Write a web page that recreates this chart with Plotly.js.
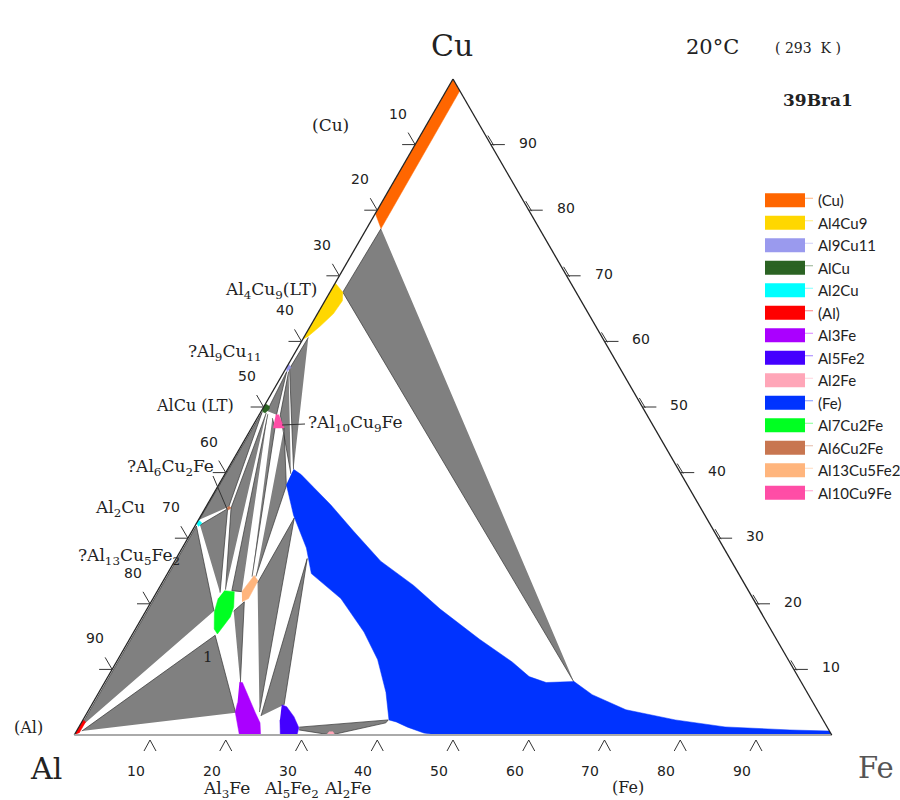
<!DOCTYPE html>
<html><head><meta charset="utf-8">
<script src="https://cdn.plot.ly/plotly-3.0.1.min.js"></script>
<style>body{margin:0;background:#fff}#chart{width:900px;height:800px}</style>
</head><body><div id="chart"></div>
<script>
// ---- DATA: compositions in at.% (Cu, Fe); Al is the balance ----
const phaseNames  = ['(Cu)','Al4Cu9','Al9Cu11','AlCu','Al2Cu','(Al)','Al3Fe','Al5Fe2','Al2Fe','(Fe)','Al7Cu2Fe','Al6Cu2Fe','Al13Cu5Fe2','Al10Cu9Fe'];
const phaseColors = ['#FF6600','#FFD700','#9A9AEE','#2B6323','#00FFFF','#FF0000','#AA00FF','#4400FF','#FFA6B8','#0033FF','#00FF22','#C87650','#FFB57D','#FF4DA6'];

const cuSS_Cu = [100, 98.2, 77.2, 79.5];
const cuSS_Fe = [0, 1.8, 1.9, 0];
const al4cu9_Cu = [68.9, 67.5, 66.2, 64.2, 62.3, 60.8, 60.3];
const al4cu9_Fe = [0, 1.7, 2.3, 2.1, 1.3, 0.5, 0];
const al9cu11_Cu = [56.6, 56.0, 55.4, 56.0];
const al9cu11_Fe = [0, 0.6, 0.4, 0];
const alcu_Cu = [50.5, 50.1, 49.7, 49.1, 49.3, 49.7];
const alcu_Fe = [0, 0.7, 0.9, 0.65, 0.2, 0];
const al2cu_Cu = [32.8, 32.3, 31.8, 32.3];
const al2cu_Fe = [0, 0.7, 0.5, 0];
const alSS_Cu = [0, 2.3, 2.0, 0.3];
const alSS_Fe = [0, 0, 0.5, 0.5];
const al3fe_Cu = [8.0, 8.0, 3.4, 1.85, 0, 0, 3.5, 4.9];
const al3fe_Fe = [17.8, 18.2, 22.2, 23.6, 24.6, 21.8, 19.5, 19.1];
const al5fe2_Cu = [4.6, 4.3, 2.8, 1.1, 0, 0, 2.3];
const al5fe2_Fe = [25.1, 25.9, 27.6, 29.1, 29.4, 27.2, 26.0];
const al2fe_Cu = [0, 0.5, 0.5, 0];
const al2fe_Fe = [33.3, 33.4, 33.9, 34.4];
const feSS_Cu = [40.5, 39.7, 37.7, 35.1, 31.1, 26.5, 22.8, 19.2, 14.6, 11.1, 8.9, 8.0, 8.15, 6.15, 3.85, 2.3, 1.23, 0.77, 0.6, 0, 0, 0.3, 1.2, 2.0, 2.3, 6.5, 11.5, 15.7, 20.8, 24.6, 28.5, 33.5, 38.2];
const feSS_Fe = [8.7, 10.1, 12.8, 16.3, 21.3, 27.2, 33.4, 38.7, 46.2, 52.3, 55.6, 58.3, 61.9, 65.3, 70.9, 78.2, 85.3, 94.1, 99.4, 100, 48.0, 46.0, 43.4, 41.5, 40.4, 37.9, 34.3, 30.4, 24.8, 19.0, 16.4, 12.2, 8.9];
const al7cu2fe_Cu = [22.0, 21.85, 19.5, 18.0, 15.4, 16.15, 18.8, 20.8];
const al7cu2fe_Fe = [8.8, 10.2, 11.3, 11.6, 11.2, 10.4, 9.1, 8.6];
const al6cu2fe_Cu = [34.9, 34.6, 34.3, 34.6];
const al6cu2fe_Fe = [3.0, 3.4, 3.2, 2.8];
const al13cu5fe2_Cu = [21.85, 24.3, 23.5, 20.8, 20.3];
const al13cu5fe2_Fe = [11.2, 11.6, 12.5, 12.6, 12.0];
const al10cu9fe_Cu = [48.8, 48.8, 46.8, 46.8];
const al10cu9fe_Fe = [2.2, 2.6, 4.3, 2.85];

// three-phase tie triangles (grey), separated by null
const threePhase_Cu = [77.2, 67.5, 8.0, null, 60.6, 55.85, 40.5, null, 55.4, 48.8, 39.8, null,
  49.4, 55.4, 48.8, null, 46.8, 38.0, 24.15, null, 23.2, 33.1, 3.5, null, 2.9, 26.9, 4.6, null,
  32.8, 49.2, 34.8, null, 49.1, 34.6, 22.15, null, 48.9, 22.0, 21.85, null, 48.3, 46.8, 24.15, null,
  32.0, 34.5, 21.7, null, 1.2, 31.85, 18.9, null, 0.6, 15.2, 3.4, null, 18.9, 20.3, 7.85, null,
  1.2, 2.3, 1.85, 0, 0.77];
const threePhase_Fe = [1.9, 1.7, 62.0, null, 0.6, 0.5, 8.7, null, 0.6, 2.8, 8.7, null,
  0.76, 0.35, 2.3, null, 4.3, 9.0, 11.9, null, 12.6, 12.5, 22.7, null, 23.2, 17.3, 25.4, null,
  0.1, 0.2, 3.0, null, 0.8, 3.4, 8.9, null, 1.1, 9.8, 11.2, null, 2.0, 3.1, 11.4, null,
  0.6, 3.0, 8.4, null, 0.2, 0.2, 9.0, null, 0.7, 11.0, 19.6, null, 11.6, 12.3, 18.0, null,
  29.1, 40.3, 40.2, 33.9, 29.3];

const tickValues = [10, 20, 30, 40, 50, 60, 70, 80, 90];

// ---- build ----
const phaseCu = [cuSS_Cu, al4cu9_Cu, al9cu11_Cu, alcu_Cu, al2cu_Cu, alSS_Cu, al3fe_Cu, al5fe2_Cu, al2fe_Cu, feSS_Cu, al7cu2fe_Cu, al6cu2fe_Cu, al13cu5fe2_Cu, al10cu9fe_Cu];
const phaseFe = [cuSS_Fe, al4cu9_Fe, al9cu11_Fe, alcu_Fe, al2cu_Fe, alSS_Fe, al3fe_Fe, al5fe2_Fe, al2fe_Fe, feSS_Fe, al7cu2fe_Fe, al6cu2fe_Fe, al13cu5fe2_Fe, al10cu9fe_Fe];
const balance = (cu, fe) => cu.map((v, i) => (v === null ? null : 100 - v - fe[i]));

const traces = [{
  type: 'scatterternary', mode: 'lines', name: 'three-phase', showlegend: false,
  a: threePhase_Cu, b: balance(threePhase_Cu, threePhase_Fe), c: threePhase_Fe,
  fill: 'toself', fillcolor: '#808080', line: {color: '#333333', width: 0.7}, connectgaps: false,
  hoverinfo: 'skip'
}];
phaseNames.forEach((n, i) => {
  traces.push({
    type: 'scatterternary', mode: 'lines', name: n,
    a: phaseCu[i], b: balance(phaseCu[i], phaseFe[i]), c: phaseFe[i],
    fill: 'toself', fillcolor: phaseColors[i], line: {color: phaseColors[i], width: 0.5},
    hoverinfo: 'name'
  });
});

const W = 900, H = 800, M = {l: 74, r: 68, t: 79, b: 65, autoexpand: false};
const PW = W - M.l - M.r, PH = H - M.t - M.b;
const triW = PH * 2 / Math.sqrt(3);
const x0 = M.l + PW / 2 - triW / 2, yBase = M.t + PH;
function pix(cu, fe) { return [x0 + triW * fe / 100 + triW / 2 * cu / 100, yBase - PH * cu / 100]; }
function px(x) { return (x - M.l) / PW; }
function py(y) { return (H - M.b - y) / PH; }

const annotations = [];
function label(x, y, text, size, opts) {
  annotations.push(Object.assign({xref: 'paper', yref: 'paper', x: px(x), y: py(y), text: text, showarrow: false,
    xanchor: 'center', yanchor: 'middle', font: {family: 'DejaVu Serif, serif', size: size, color: '#222'}}, opts || {}));
}
const shapes = [];
function seg(xa, ya, xb, yb, color, width) {
  shapes.push({type: 'line', xref: 'paper', yref: 'paper', x0: px(xa), y0: py(ya), x1: px(xb), y1: py(yb),
    line: {color: color || '#333', width: width || 1}});
}
const tickFont = {family: 'DejaVu Sans, sans-serif', size: 14, color: '#222'};
tickValues.forEach(v => {
  // left edge: Al at.%
  let p = pix(100 - v, 0);
  label(p[0] - 17, p[1] - 31, String(v), 14, {font: tickFont});
  seg(p[0], p[1], p[0] - 13, p[1]); seg(p[0], p[1], p[0] - 7, p[1] - 12);
  // bottom edge: Fe at.%
  p = pix(0, v);
  label(p[0] - 14, p[1] + 36, String(v), 14, {font: tickFont});
  seg(p[0], p[1] + 5, p[0] - 6, p[1] + 16); seg(p[0], p[1] + 5, p[0] + 6, p[1] + 16);
  // right edge: Cu at.%
  p = pix(v, 100 - v);
  label(p[0] + 37, p[1] - 2, String(v), 14, {font: tickFont});
  seg(p[0], p[1], p[0] + 14, p[1]); seg(p[0] - 3, p[1] - 9, p[0] + 3, p[1] + 1);
});
label(452, 45, 'Cu', 30);
label(46, 768, 'Al', 30);
label(876, 768, 'Fe', 29, {font: {family: 'DejaVu Serif, serif', size: 29, color: '#555'}});
label(712, 47, '20°C', 21);
label(808, 48, '( 293  K )', 14);
label(818, 100, '<b>39Bra1</b>', 17);
label(330, 125, '(Cu)', 17);
label(319, 290, 'Al<sub>4</sub>Cu<sub>9</sub>(LT)', 17, {xanchor: 'right'});
label(264, 352, '?Al<sub>9</sub>Cu<sub>11</sub>', 17, {xanchor: 'right'});
label(236, 405, 'AlCu (LT)', 16, {xanchor: 'right'});
label(306, 423, '?Al<sub>10</sub>Cu<sub>9</sub>Fe', 17, {xanchor: 'left'});
label(216, 467, '?Al<sub>6</sub>Cu<sub>2</sub>Fe', 17, {xanchor: 'right'});
label(147, 508, 'Al<sub>2</sub>Cu', 17, {xanchor: 'right'});
label(76, 556, '?Al<sub>13</sub>Cu<sub>5</sub>Fe<sub>2</sub>', 17, {xanchor: 'left'});
label(28, 727, '(Al)', 16);
label(208, 657, '1', 15);
label(226, 790, 'Al<sub>3</sub>Fe', 17);
label(291, 790, 'Al<sub>5</sub>Fe<sub>2</sub>', 17);
label(347, 790, 'Al<sub>2</sub>Fe', 17);
label(628, 787, '(Fe)', 16);

seg(282, 425, 305, 424);
seg(213, 476, 227, 509);

const axisBase = {min: 0, tickmode: 'array', tickvals: tickValues, ticks: '', showticklabels: false,
  showgrid: false, linewidth: 1.3, title: {text: ''}};
const layout = {
  width: W, height: H, margin: M, paper_bgcolor: '#fff', showlegend: true,
  ternary: {
    sum: 100, bgcolor: '#fff',
    aaxis: Object.assign({}, axisBase, {linecolor: '#222'}),
    baxis: Object.assign({}, axisBase, {linecolor: '#aaa', linewidth: 2}),
    caxis: Object.assign({}, axisBase, {linecolor: '#222'})
  },
  legend: {x: px(760), y: py(184), xanchor: 'left', yanchor: 'top', bgcolor: 'rgba(0,0,0,0)',
    font: {family: 'Lato, sans-serif', size: 15, color: '#222'}, itemwidth: 48, traceorder: 'normal'},
  annotations: annotations, shapes: shapes
};
Plotly.newPlot('chart', traces, layout, {displayModeBar: false}).then(gd => {
  gd.querySelectorAll('.legendfill path').forEach(p => p.setAttribute('d', 'M5,-7h40v14h-40z'));
});
</script></body></html>
